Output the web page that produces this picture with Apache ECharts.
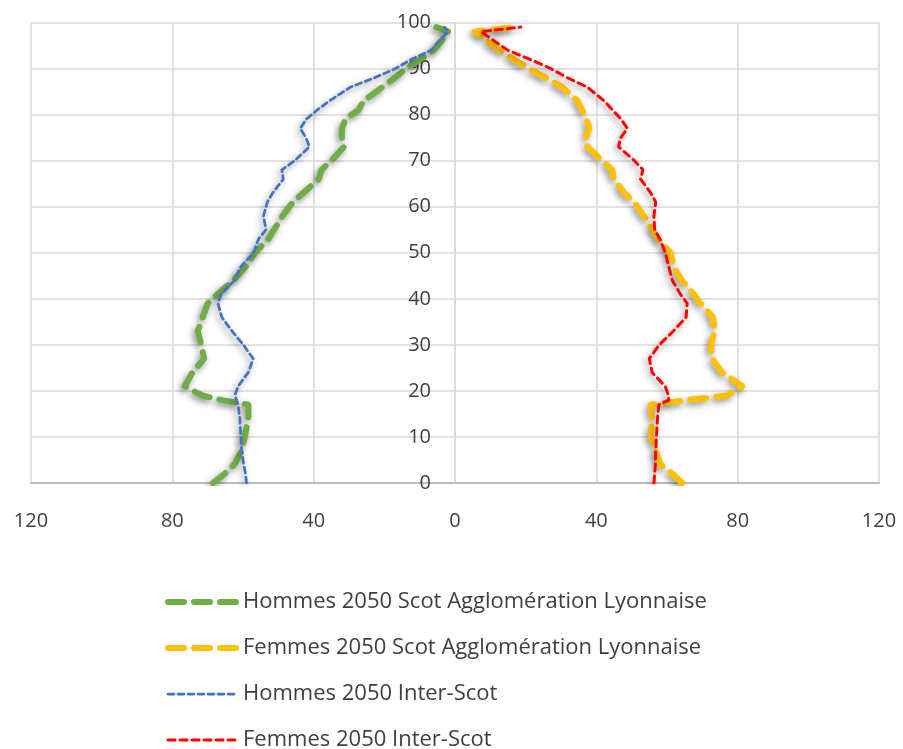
<!DOCTYPE html>
<html>
<head>
<meta charset="utf-8">
<script src="https://cdn.jsdelivr.net/npm/echarts@6/dist/echarts.min.js"></script>
<style>
  html, body { margin: 0; padding: 0; background: #fff; }
  #chart { width: 903px; height: 749px; }
</style>
</head>
<body>
<div id="chart"></div>
<script>
// ages (vertical axis)
const ages = [0, 2, 4, 7, 10, 14, 17, 18, 19, 21, 24, 27, 30, 33, 36, 39, 41, 44, 47, 50, 53, 55, 58, 61, 63, 66, 68, 70, 73, 75, 77, 79, 81, 83, 86, 88, 90, 92, 94, 96, 98, 99]

// effectifs (hommes a gauche, femmes a droite)
const hommesScot = [68.5, 65.2, 62.5, 60.4, 59.5, 58.5, 58.5, 66.0, 71.5, 76.5, 74.3, 71.0, 71.8, 72.8, 71.4, 70.0, 67.2, 62.7, 59.2, 56.6, 52.8, 51.2, 48.8, 45.9, 42.9, 38.6, 37.8, 35.0, 31.4, 32.0, 32.0, 31.0, 27.3, 25.8, 20.5, 17.0, 13.8, 9.8, 6.0, 3.8, 1.9, 5.3]
const femmesScot = [64.3, 61.5, 58.2, 56.8, 55.4, 55.8, 55.4, 66.0, 77.0, 81.3, 75.6, 72.8, 72.4, 73.5, 73.0, 69.5, 67.6, 64.2, 61.8, 61.0, 57.5, 55.8, 53.5, 50.7, 47.9, 44.9, 44.5, 41.7, 37.5, 37.0, 38.0, 37.2, 36.0, 34.7, 30.3, 25.7, 20.8, 16.6, 12.6, 9.0, 5.5, 17.0]
const hommesInter = [59.0, 59.3, 59.8, 60.4, 60.6, 60.9, 61.4, 61.8, 62.3, 61.4, 58.5, 57.1, 59.9, 63.1, 66.0, 67.1, 66.2, 62.4, 60.6, 57.0, 55.6, 53.5, 54.2, 53.1, 51.6, 48.6, 49.0, 45.4, 41.2, 42.2, 43.8, 42.1, 39.0, 35.5, 29.5, 22.8, 16.8, 12.3, 6.7, 4.5, 2.0, 3.0]
const femmesInter = [56.3, 56.5, 56.7, 56.8, 57.0, 57.3, 57.7, 60.5, 60.4, 59.5, 55.8, 55.0, 57.8, 61.8, 65.4, 65.7, 63.8, 61.5, 60.5, 59.5, 58.0, 56.5, 56.3, 56.8, 55.4, 52.5, 53.2, 50.8, 46.3, 46.9, 48.8, 47.0, 44.6, 42.2, 37.4, 31.8, 27.1, 21.2, 14.9, 11.1, 7.3, 18.6]

const seriesNames = [
  'Hommes 2050 Scot Agglomération Lyonnaise',
  'Femmes 2050 Scot Agglomération Lyonnaise',
  'Hommes 2050 Inter-Scot',
  'Femmes 2050 Inter-Scot'
]
const xTicks = [-120, -80, -40, 0, 40, 80, 120]

const font = "'Open Sans', sans-serif"
const textColor = '#404040'
const gridColor = '#d9d9d9'

const styles = [
  { color: '#70AD47', width: 6, dash: [16, 10] },
  { color: '#FFC000', width: 6, dash: [16, 10] },
  { color: '#4472C4', width: 2.75, dash: [6, 4] },
  { color: '#FF0000', width: 3, dash: [7, 5] }
]

const gridLeft = 31
const gridRight = 24
const plotWidth = 903 - gridLeft - gridRight

// hommes en negatif pour la pyramide
const toPoints = (vals, sign) => vals.map((v, i) => [sign * v, ages[i]])

const makeSeries = (idx, vals, sign) => {
  const s = styles[idx]
  return {
    name: seriesNames[idx],
    type: 'line',
    data: toPoints(vals, sign),
    symbol: 'none',
    smooth: false,
    lineStyle: {
      color: s.color,
      width: s.width,
      type: s.dash,
      cap: 'round',
      join: 'round',
      shadowColor: 'rgba(0,0,0,0.45)',
      shadowBlur: 6,
      shadowOffsetX: -2,
      shadowOffsetY: 3
    },
    itemStyle: { color: s.color }
  }
}

const chart = echarts.init(document.getElementById('chart'))

chart.setOption({
  animation: false,
  backgroundColor: '#fff',
  textStyle: { fontFamily: font },
  grid: {
    left: gridLeft,
    right: gridRight,
    top: 22.5,
    bottom: 266,
    containLabel: false,
    outerBoundsMode: 'none'
  },
  xAxis: {
    type: 'value',
    min: xTicks[0],
    max: xTicks[xTicks.length - 1],
    interval: 40,
    axisLine: { show: true, onZero: false, lineStyle: { color: '#bfbfbf', width: 2 } },
    axisTick: { show: false },
    axisLabel: {
      color: textColor,
      fontSize: 20,
      fontFamily: font,
      margin: 28,
      formatter: (v) => String(Math.abs(v))
    },
    splitLine: { show: true, lineStyle: { color: gridColor, width: 1.5 } }
  },
  yAxis: {
    type: 'value',
    min: 0,
    max: 100,
    interval: 10,
    position: 'left',
    // axe vertical place au milieu (valeur 0 de l'axe horizontal)
    offset: -plotWidth / 2,
    axisLine: { show: true, onZero: false, lineStyle: { color: gridColor, width: 1.5 } },
    axisTick: { show: false },
    axisLabel: {
      color: textColor,
      fontSize: 20,
      fontFamily: font,
      margin: 24
    },
    splitLine: { show: true, lineStyle: { color: gridColor, width: 1.5 } }
  },
  legend: {
    orient: 'vertical',
    left: 160,
    top: 586,
    height: 200,
    itemWidth: 70,
    itemHeight: 14,
    itemGap: 24,
    textStyle: { color: textColor, fontSize: 22, fontFamily: font },
    itemStyle: { opacity: 0 },
    data: seriesNames.map((name, i) => ({
      name,
      itemStyle: { opacity: 0 },
      lineStyle: {
        color: styles[i].color,
        width: styles[i].width,
        type: styles[i].dash,
        cap: 'round'
      }
    }))
  },
  series: [
    makeSeries(0, hommesScot, -1),
    makeSeries(1, femmesScot, 1),
    makeSeries(2, hommesInter, -1),
    makeSeries(3, femmesInter, 1)
  ]
})
</script>
</body>
</html>
